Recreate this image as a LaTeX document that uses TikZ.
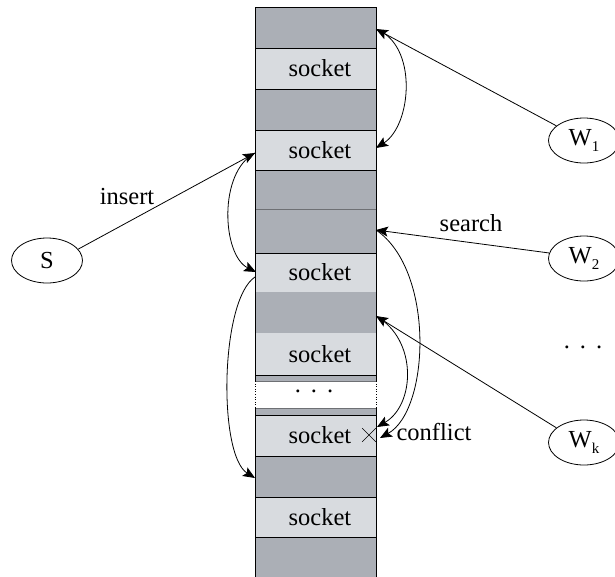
\documentclass[tikz,border=0pt]{standalone}
\usepackage{fontspec}
\setmainfont{Liberation Serif}
\usetikzlibrary{arrows.meta,shapes.geometric,shapes.misc}
\definecolor{slotgray}{RGB}{171,175,182}
\definecolor{socketgray}{RGB}{216,219,223}
\definecolor{seamgray}{RGB}{110,112,116}
\begin{document}
\begin{tikzpicture}[x=1pt,y=-1pt,
  font=\fontsize{24.5}{28}\selectfont,
  conn/.style={draw, line width=0.8pt, -{Stealth[length=12pt,width=10pt,inset=2.5pt]}},
  agent/.style={ellipse, draw, line width=0.8pt, minimum width=71pt, minimum height=45pt, inner sep=0pt},
  lbl/.style={inner sep=0pt, anchor=center}]
\clip (0,0) rectangle (615,576);
% ---- column fills
\foreach \a/\b in {7/48,89/130,170/253,292/333,375/381,408/415,456/497,537/580}
  \fill[slotgray] (255,\a) rectangle (376,\b);
\foreach \a/\b in {48/89,130/170,253/292,333/375,415/456,497/537}
  \fill[socketgray] (255,\a) rectangle (376,\b);
% ---- row seams
\foreach \y in {7,48,89,130,170,253,375,415,456,497,537}
  \draw[line width=0.8pt] (255,\y) -- (376,\y);
\foreach \y in {209,381,408}
  \draw[line width=0.8pt, seamgray] (255,\y) -- (376,\y);
% ---- column sides
\draw[line width=0.8pt] (255,7) -- (255,381) (255,408) -- (255,580);
\draw[line width=0.8pt] (376,7) -- (376,381) (376,408) -- (376,580);
\draw[line width=0.6pt, dotted] (255,381) -- (255,408) (376,381) -- (376,408);
% ---- socket labels
\node[lbl] (sk1) at (320,68.5) {socket};
\node[lbl] (sk2) at (320,150) {socket};
\node[lbl] (sk3) at (320,272.5) {socket};
\node[lbl] (sk4) at (320,354) {socket};
\node[lbl] (sk5) at (320,435.5) {socket};
\node[lbl] (sk6) at (320,517) {socket};
\node[lbl] (coldots) at (314,391) {.\hspace{10pt}.\hspace{10pt}.};
% ---- agents
\node[agent] (S) at (47,260.5) {S};
\node[agent] (W1) at (584,140.5) {W\raisebox{-6pt}{\fontsize{15}{15}\selectfont 1}};
\node[agent] (W2) at (584,258.5) {W\raisebox{-6pt}{\fontsize{15}{15}\selectfont 2}};
\node[agent] (Wk) at (584,442.5) {W\raisebox{-6pt}{\fontsize{15}{15}\selectfont k}};
\node[lbl] (wdots) at (583,347) {.\hspace{10pt}.\hspace{10pt}.};
% ---- anchor points on the column
\coordinate (g1R) at (376,29);
\coordinate (s2R) at (376,148);
\coordinate (s2L) at (255,153);
\coordinate (s3L) at (256,272);
\coordinate (s3Lb) at (255,277);
\coordinate (g7L) at (255,478);
\coordinate (g6R) at (376,230);
\coordinate (g8R) at (376,316);
\coordinate (cf1) at (377,427);
\coordinate (cf2) at (380,438);
% ---- labels
\node[lbl] (ins) at (127,197) {insert};
\node[lbl] (srch) at (471,223) {search};
\node[lbl] (cfl) at (434,432) {conflict};
\node[cross out, draw, line width=0.6pt, minimum size=13pt, inner sep=0pt] (cross) at (369,435) {};
% ---- connectors
\draw[conn] (W1.152) -- (g1R);
\draw[conn] (g1R) .. controls (418,45) and (412,125) .. (s2R);
\draw[conn] (S.20) -- (s2L);
\draw[conn] (s2L) .. controls (218,172) and (222,255) .. (s3L);
\draw[conn] (s3Lb) .. controls (220,300) and (218,455) .. (g7L);
\draw[conn] (W2.171) -- (g6R);
\draw[conn] (g6R) .. controls (435,270) and (430,410) .. (cf2);
\draw[conn] (Wk.152) -- (g8R);
\draw[conn] (g8R) .. controls (418,340) and (415,405) .. (cf1);
\end{tikzpicture}
\end{document}
